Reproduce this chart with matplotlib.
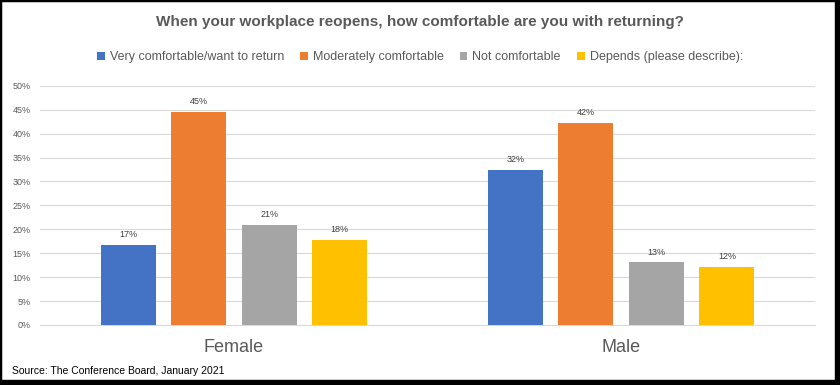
import matplotlib.pyplot as plt
import numpy as np
from matplotlib.patches import Rectangle

# Data
groups = ['Female', 'Male']
series = ['Very comfortable/want to return', 'Moderately comfortable',
          'Not comfortable', 'Depends (please describe):']
very_comf = [16.7, 32.4]
moderately = [44.6, 42.2]
not_comf = [20.9, 13.1]
depends = [17.8, 12.2]
colors = ['#4472C4', '#ED7D31', '#A5A5A5', '#FFC000']

plt.rcParams['font.family'] = ['Liberation Sans', 'DejaVu Sans']

fig = plt.figure(figsize=(8.4, 3.85), dpi=100)
ax = fig.add_axes([0.048, 0.156, 0.922, 0.621])

x = np.arange(len(groups))
step = 0.182
width = 0.142
values = [very_comf, moderately, not_comf, depends]
for i, (vals, name, c) in enumerate(zip(values, series, colors)):
    pos = x + (i - 1.5) * step
    bars = ax.bar(pos, vals, width, color=c, label=name, zorder=3)
    for b, v in zip(bars, vals):
        ax.text(b.get_x() + b.get_width() / 2, v + 1.2, f'{round(v):.0f}%',
                ha='center', va='bottom', fontsize=6.5, color='#404040')

ax.set_xlim(-0.5, 1.5)
ax.set_ylim(0, 50)
ax.set_yticks(np.arange(0, 51, 5))
ax.set_yticklabels([f'{t}%' for t in range(0, 51, 5)], fontsize=6.5, color='#595959')
ax.set_xticks(x)
ax.set_xticklabels(groups, fontsize=13, color='#595959')
ax.tick_params(axis='both', length=0)
ax.tick_params(axis='x', pad=10)
ax.tick_params(axis='y', pad=7)
ax.grid(axis='y', color='#D9D9D9', linewidth=0.8, zorder=0)
for s in ax.spines.values():
    s.set_visible(False)
ax.spines['bottom'].set_visible(True)
ax.spines['bottom'].set_color('#D9D9D9')

fig.text(0.5, 0.943, 'When your workplace reopens, how comfortable are you with returning?',
         ha='center', va='center', fontsize=11, fontweight='bold', color='#595959')
fig.legend(loc='center', bbox_to_anchor=(0.5, 0.852), ncol=4, frameon=False,
           fontsize=9, handlelength=0.6, handleheight=0.6, handletextpad=0.4,
           columnspacing=1.3, labelcolor='#595959')
fig.text(0.014, 0.036, 'Source: The Conference Board, January 2021',
         ha='left', va='center', fontsize=7.5, color='black')

# frame with shadow
fig.patches.append(Rectangle((0, 0), 1, 1, transform=fig.transFigure, fill=False,
                             edgecolor='black', linewidth=2.5))
fig.patches.append(Rectangle((0.994, 0), 0.006, 1, transform=fig.transFigure,
                             color='black'))
fig.patches.append(Rectangle((0, 0), 1, 0.013, transform=fig.transFigure,
                             color='black'))

fig.savefig('out.png', dpi=100)
